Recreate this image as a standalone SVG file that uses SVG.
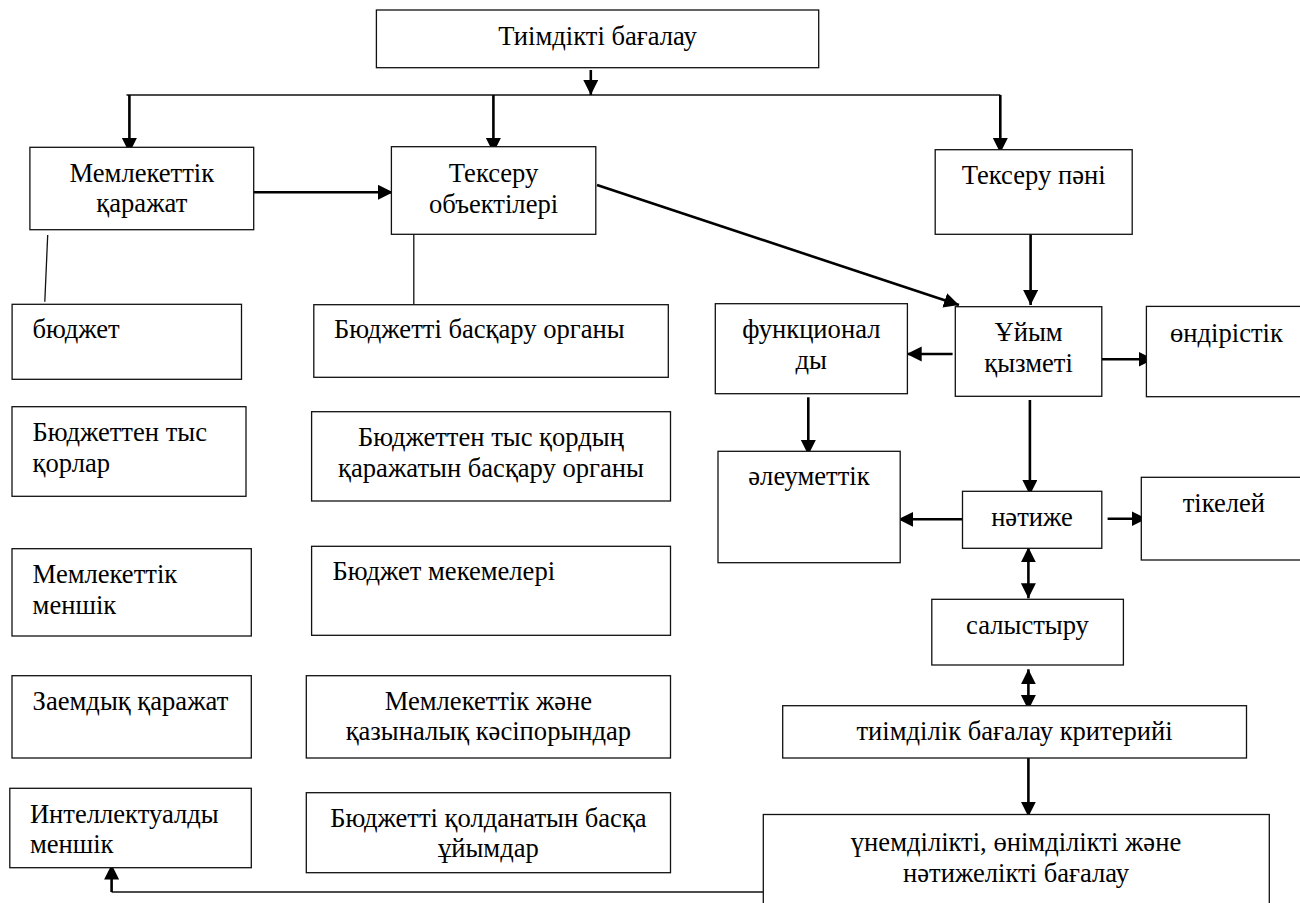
<svg xmlns="http://www.w3.org/2000/svg" width="1300" height="903" viewBox="0 0 1300 903">
<style>
.b{fill:#fff;stroke:#111;stroke-width:1.3}
text{font-family:'Liberation Serif','Times New Roman',serif;font-size:26.6px;fill:#000}
.c{text-anchor:middle}
.thin{fill:none;stroke:#111;stroke-width:1.3}
.a{fill:none;stroke:#000;stroke-width:2.6;marker-end:url(#ah)}
.d{fill:none;stroke:#000;stroke-width:2.6;marker-end:url(#ah);marker-start:url(#ah)}
</style>
<defs>
<marker id="ah" markerUnits="userSpaceOnUse" markerWidth="16" markerHeight="16" refX="15" refY="7.5" orient="auto-start-reverse">
<path d="M0,0 L15,7.5 L0,15 z" fill="#000"/>
</marker>
</defs>
<rect width="1300" height="903" fill="#fff"/>
<g id="connectors">
<path class="thin" d="M126.5,95 H1000.3"/>
<path class="a" d="M590.8,70 V95"/>
<path class="a" d="M129.4,95 V153"/>
<path class="a" d="M493.4,95 V153"/>
<path class="a" d="M1000.3,95 V153"/>
<path class="a" d="M253.7,192.3 H393"/>
<path class="a" d="M597,185 L959,305"/>
<path class="thin" d="M47.7,235 L44.8,301.7"/>
<path class="thin" d="M413.8,234.3 V304"/>
<path class="a" d="M1030.6,234.3 V305"/>
<path class="a" d="M952.6,354 H906.7"/>
<path class="a" d="M1101.8,359.3 H1153.5"/>
<path class="a" d="M808.3,397.3 V455"/>
<path class="a" d="M1029.9,400 V495"/>
<path class="a" d="M962.5,519.3 H898.2"/>
<path class="a" d="M1107.6,518.7 H1146.6"/>
<path class="d" d="M1028.4,547.3 V598.3"/>
<path class="d" d="M1028.4,669.3 V710"/>
<path class="a" d="M1028.4,758 V816.7"/>
<path class="thin" d="M763.5,892 H111.6"/>
<path class="a" d="M111.6,892 V864.5"/>
</g>
<g id="n-top"><rect class="b" x="376.4" y="10" width="442.3" height="57.7"/><text class="c" x="597.5" y="45">Тиімдікті бағалау</text></g>
<g id="n-mem"><rect class="b" x="29.9" y="147.3" width="223.8" height="82.4"/><text class="c" x="141.8" y="181.7">Мемлекеттік</text><text class="c" x="141.8" y="211.7">қаражат</text></g>
<g id="n-obj"><rect class="b" x="391.4" y="146.7" width="204.4" height="87.6"/><text class="c" x="493.6" y="181.7">Тексеру</text><text class="c" x="493.6" y="213.3">объектілері</text></g>
<g id="n-pani"><rect class="b" x="935.2" y="149.7" width="197" height="84.6"/><text class="c" x="1033.7" y="184">Тексеру пәні</text></g>
<g id="n-budget"><rect class="b" x="12.1" y="304.3" width="229.4" height="75"/><text x="32.6" y="338.3">бюджет</text></g>
<g id="n-organ"><rect class="b" x="313.8" y="304.7" width="354.5" height="72.6"/><text x="334" y="338">Бюджетті басқару органы</text></g>
<g id="n-tys"><rect class="b" x="12" y="406.7" width="234" height="89.6"/><text x="32.6" y="440.7">Бюджеттен тыс</text><text x="32.6" y="471.7">қорлар</text></g>
<g id="n-tysorgan"><rect class="b" x="311.6" y="411.7" width="358.9" height="89.3"/><text class="c" x="491" y="445.7">Бюджеттен тыс қордың</text><text class="c" x="491" y="477.3">қаражатын басқару органы</text></g>
<g id="n-menshik"><rect class="b" x="12" y="548.7" width="239.3" height="87.3"/><text x="32.6" y="582.7">Мемлекеттік</text><text x="32.6" y="614">меншік</text></g>
<g id="n-mekeme"><rect class="b" x="311.6" y="546.3" width="358.9" height="89"/><text x="332.6" y="580">Бюджет мекемелері</text></g>
<g id="n-zaem"><rect class="b" x="12" y="675.7" width="239.3" height="82.3"/><text x="32.6" y="710">Заемдық қаражат</text></g>
<g id="n-kasipor"><rect class="b" x="306.3" y="675.7" width="364.2" height="82.3"/><text class="c" x="488.4" y="710">Мемлекеттік және</text><text class="c" x="488.4" y="740">қазыналық кәсіпорындар</text></g>
<g id="n-intel"><rect class="b" x="9.8" y="788.3" width="241.5" height="79.4"/><text x="29.9" y="822.7">Интеллектуалды</text><text x="29.9" y="852.7">меншік</text></g>
<g id="n-baska"><rect class="b" x="306.3" y="792.7" width="364.2" height="80"/><text class="c" x="488.4" y="826.7">Бюджетті қолданатын басқа</text><text class="c" x="488.4" y="856.7">ұйымдар</text></g>
<g id="n-func"><rect class="b" x="715.3" y="303.7" width="192.1" height="90"/><text class="c" x="811.3" y="338.3">функционал</text><text class="c" x="811.3" y="369">ды</text></g>
<g id="n-uiym"><rect class="b" x="955.3" y="306.7" width="146.5" height="89.6"/><text class="c" x="1028.6" y="340.7">Ұйым</text><text class="c" x="1028.6" y="371.7">қызметі</text></g>
<g id="n-ondir"><rect class="b" x="1146.4" y="306.4" width="170" height="90.3"/><text x="1170" y="341.7">өндірістік</text></g>
<g id="n-aleum"><rect class="b" x="718" y="451.3" width="182.2" height="111.4"/><text class="c" x="809" y="485">әлеуметтік</text></g>
<g id="n-natije"><rect class="b" x="962.5" y="491.3" width="139.3" height="57"/><text class="c" x="1032" y="526">нәтиже</text></g>
<g id="n-tikelei"><rect class="b" x="1141.3" y="477.3" width="175" height="82.7"/><text x="1182.7" y="511.7">тікелей</text></g>
<g id="n-salys"><rect class="b" x="931.8" y="599.3" width="191.6" height="65.7"/><text class="c" x="1027.5" y="634">салыстыру</text></g>
<g id="n-krit"><rect class="b" x="782.7" y="705.7" width="463.8" height="52.3"/><text class="c" x="1014.6" y="740">тиімділік бағалау критерийі</text></g>
<g id="n-baga"><rect class="b" x="763.3" y="814.5" width="506" height="100"/><text class="c" x="1016" y="850.7">үнемділікті, өнімділікті және</text><text class="c" x="1016" y="881.7">нәтижелікті бағалау</text></g>
</svg>
